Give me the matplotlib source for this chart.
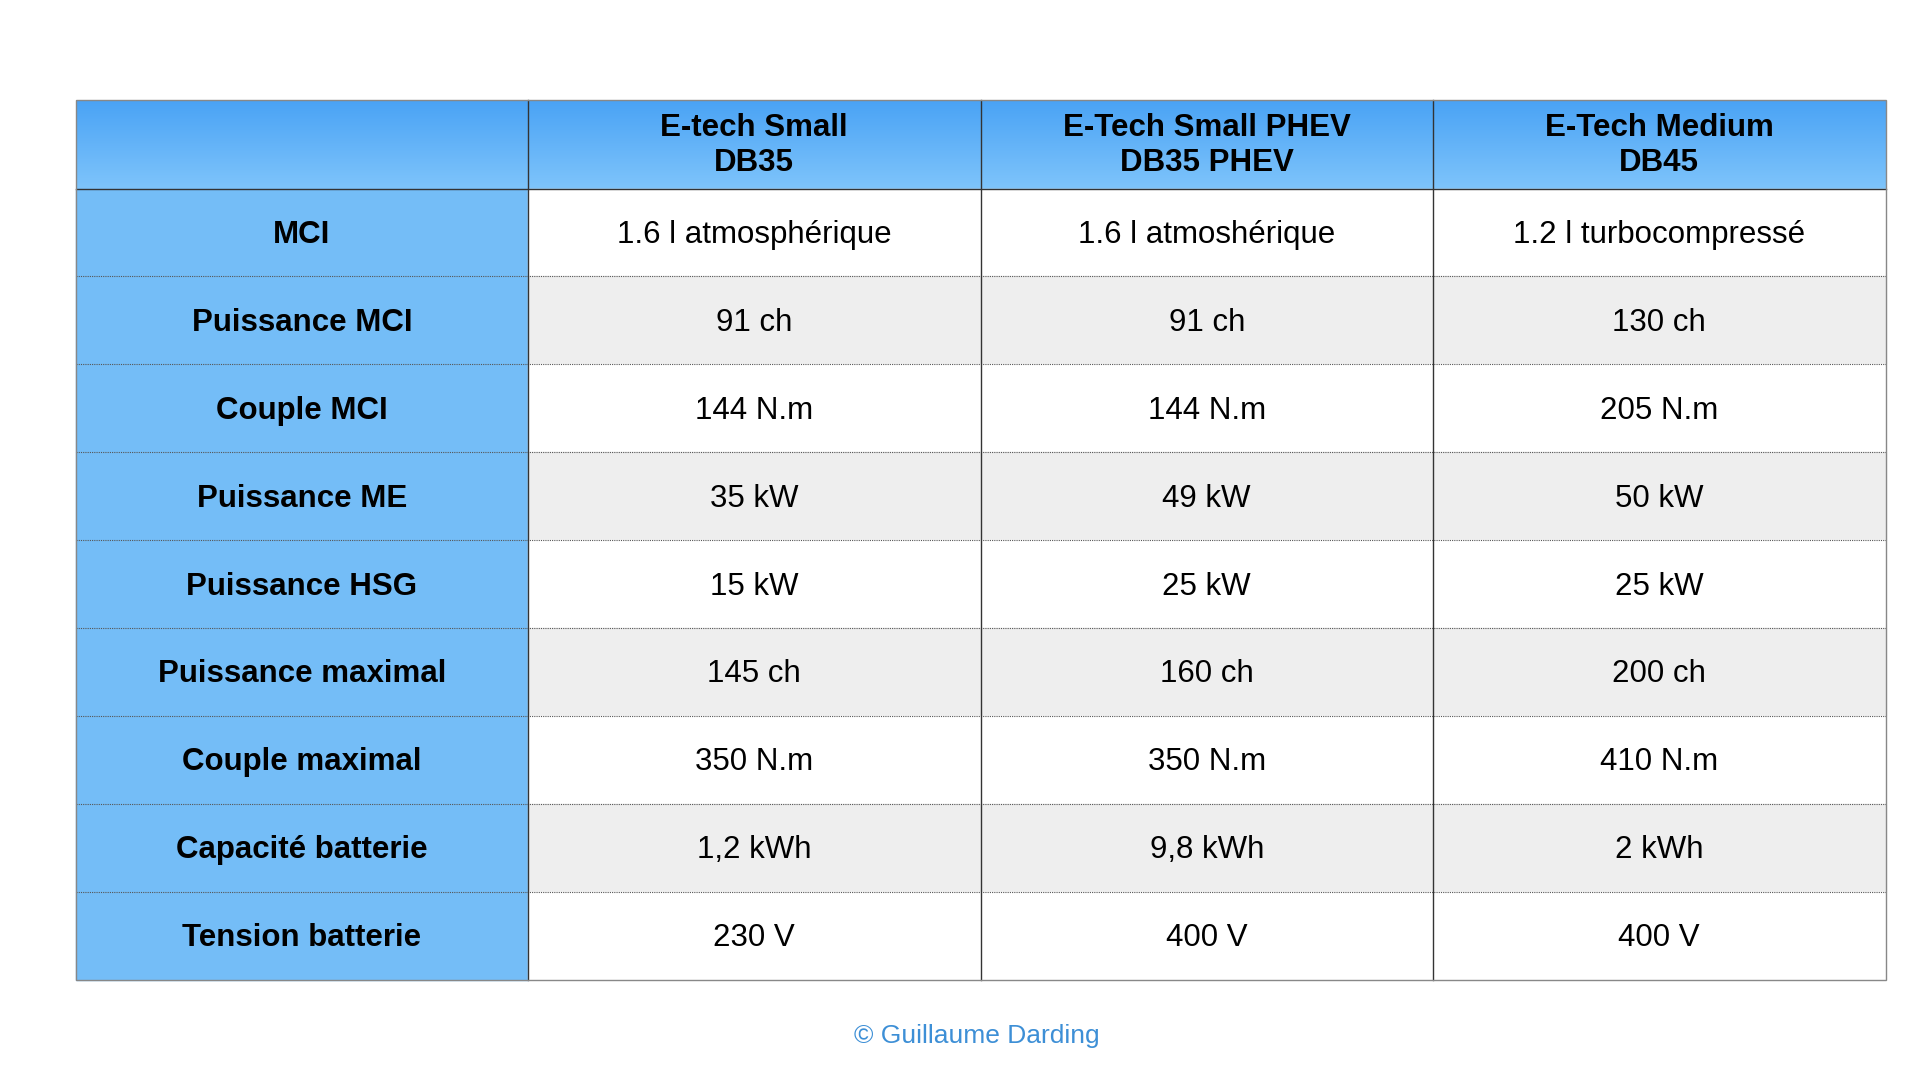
import matplotlib
matplotlib.use("Agg")
import matplotlib.pyplot as plt
from matplotlib.patches import Rectangle
import numpy as np

columns = ["E-tech Small\nDB35", "E-Tech Small PHEV\nDB35 PHEV", "E-Tech Medium\nDB45"]
row_labels = ["MCI", "Puissance MCI", "Couple MCI", "Puissance ME", "Puissance HSG",
              "Puissance maximal", "Couple maximal", "Capacité batterie", "Tension batterie"]
col_small = ["1.6 l atmosphérique", "91 ch", "144 N.m", "35 kW", "15 kW", "145 ch", "350 N.m", "1,2 kWh", "230 V"]
col_phev = ["1.6 l atmoshérique", "91 ch", "144 N.m", "49 kW", "25 kW", "160 ch", "350 N.m", "9,8 kWh", "400 V"]
col_medium = ["1.2 l turbocompressé", "130 ch", "205 N.m", "50 kW", "25 kW", "200 ch", "410 N.m", "2 kWh", "400 V"]
credit = "© Guillaume Darding"

fig = plt.figure(figsize=(19.2, 10.8), dpi=100)
ax = fig.add_axes([0, 0, 1, 1])
ax.set_xlim(0, 1568); ax.set_ylim(882, 0); ax.axis("off")

xs = [62, 431, 801, 1170, 1540]
top, hb = 82, 154
rh = (800 - hb) / len(row_labels)
font = "Liberation Sans"
fs = 22.5

grad = np.linspace(0, 1, 50).reshape(-1, 1)
c1 = np.array([0x4a, 0xa3, 0xf5]) / 255; c2 = np.array([0x7e, 0xc4, 0xfb]) / 255
img = c1 + (c2 - c1) * grad[..., None]
ax.imshow(img, extent=(xs[0], xs[-1], hb, top), aspect="auto", zorder=1)
for i, c in enumerate(columns):
    ax.text((xs[i+1] + xs[i+2]) / 2, (top + hb) / 2 + 1, c, ha="center", va="center",
            fontsize=fs, fontweight="bold", color="black", family=font, linespacing=1.2, zorder=3)

data = [col_small, col_phev, col_medium]
for r, lab in enumerate(row_labels):
    y0 = hb + r * rh
    ax.add_patch(Rectangle((xs[0], y0), xs[1] - xs[0], rh, color="#74bdf7", zorder=1))
    bg = "white" if r % 2 == 0 else "#eeeeee"
    ax.add_patch(Rectangle((xs[1], y0), xs[-1] - xs[1], rh, color=bg, zorder=1))
    ax.text((xs[0] + xs[1]) / 2, y0 + rh / 2 + 2, lab, ha="center", va="center",
            fontsize=fs, fontweight="bold", family=font, zorder=3)
    for j in range(3):
        ax.text((xs[j+1] + xs[j+2]) / 2, y0 + rh / 2 + 2, data[j][r], ha="center", va="center",
                fontsize=fs, family=font, zorder=3)
    if r > 0:
        ax.plot([xs[0], xs[-1]], [y0, y0], color="#555555", lw=0.8, ls=(0, (1, 1)), zorder=4)

ax.plot([xs[0], xs[-1]], [hb, hb], color="#333333", lw=1, zorder=4)
for x in xs[1:-1]:
    ax.plot([x, x], [top, 800], color="#333333", lw=1, zorder=4)
ax.add_patch(Rectangle((xs[0], top), xs[-1] - xs[0], 800 - top, fill=False, ec="#888888", lw=1, zorder=4))

ax.text(798, 846, credit, ha="center", va="center", fontsize=19, color="#3d8fd6", family=font)
fig.savefig("out.png", dpi=100)
